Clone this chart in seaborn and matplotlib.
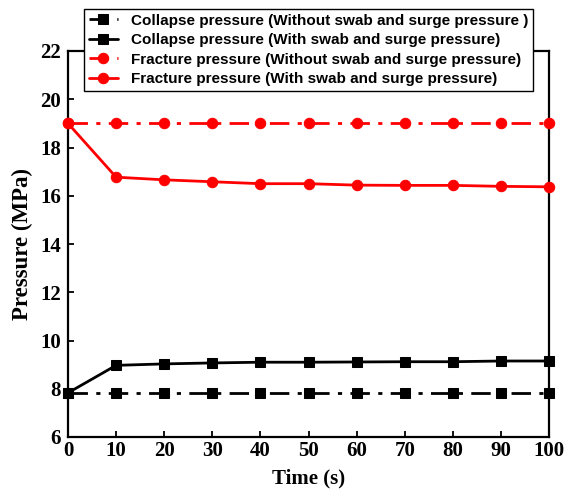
import matplotlib
matplotlib.use("Agg")
import matplotlib.pyplot as plt
import seaborn as sns
import pandas as pd

time_s = [0, 10, 20, 30, 40, 50, 60, 70, 80, 90, 100]
collapse_without = [7.83] * 11
collapse_with = [7.83, 8.97, 9.03, 9.07, 9.10, 9.10, 9.11, 9.12, 9.12, 9.15, 9.15]
fracture_without = [19.0] * 11
fracture_with = [19.0, 16.77, 16.66, 16.58, 16.50, 16.50, 16.44, 16.43, 16.43, 16.39, 16.37]

labels = [
    "Collapse pressure (Without swab and surge pressure )",
    "Collapse pressure (With swab and surge pressure)",
    "Fracture pressure (Without swab and surge pressure)",
    "Fracture pressure (With swab and surge pressure)",
]
series = [collapse_without, collapse_with, fracture_without, fracture_with]
colors = ["black", "black", "red", "red"]
markers = ["s", "s", "o", "o"]
dashdot = (0, (7, 3, 1.5, 3))
styles = [dashdot, "-", dashdot, "-"]

sns.set_theme(style="ticks")
plt.rcParams["font.family"] = ["Liberation Serif", "DejaVu Serif"]
plt.rcParams["text.color"] = "black"
plt.rcParams["axes.labelcolor"] = "black"
plt.rcParams["xtick.color"] = "black"
plt.rcParams["ytick.color"] = "black"

fig = plt.figure(figsize=(5.64, 4.92), dpi=100)
ax = fig.add_axes([68 / 564, 1 - 437 / 492, (549 - 68) / 564, (437 - 51) / 492])

for lab, vals, c, m, ls in zip(labels, series, colors, markers, styles):
    df = pd.DataFrame({"Time": time_s, "Pressure": vals})
    sns.lineplot(data=df, x="Time", y="Pressure", ax=ax, color=c, marker=m,
                 markersize=7.5, markeredgecolor=c, linewidth=2, linestyle=ls,
                 label=lab, clip_on=False, zorder=3)

ax.set_xlim(0, 100)
ax.set_ylim(6, 22)
ax.set_xticks(range(0, 101, 10))
ax.set_yticks(range(6, 23, 2))
ax.tick_params(direction="in", length=4, width=1.3, labelsize=15,
               colors="black")
ax.tick_params(axis="x", pad=3)
ax.tick_params(axis="y", pad=5)
for t in ax.get_xticklabels() + ax.get_yticklabels():
    t.set_fontweight("bold")
for sp in ax.spines.values():
    sp.set_linewidth(1.6)
    sp.set_color("black")

ax.set_xlabel("Time (s)", fontsize=15, fontweight="bold", labelpad=5)
ax.set_ylabel("Pressure (MPa)", fontsize=16.5, fontweight="bold", labelpad=5)

leg = ax.legend(loc="upper left", bbox_to_anchor=(84 / 564, 1 - 9 / 492),
                bbox_transform=fig.transFigure, borderaxespad=0, frameon=True,
                fancybox=False, edgecolor="black", framealpha=1, borderpad=0.3,
                labelspacing=0.36, handlelength=1.9, handletextpad=0.85,
                prop={"family": "Liberation Sans", "weight": "bold", "size": 11})
leg.get_frame().set_linewidth(1.0)
leg.set_zorder(10)

fig.savefig("out.png", dpi=100)
